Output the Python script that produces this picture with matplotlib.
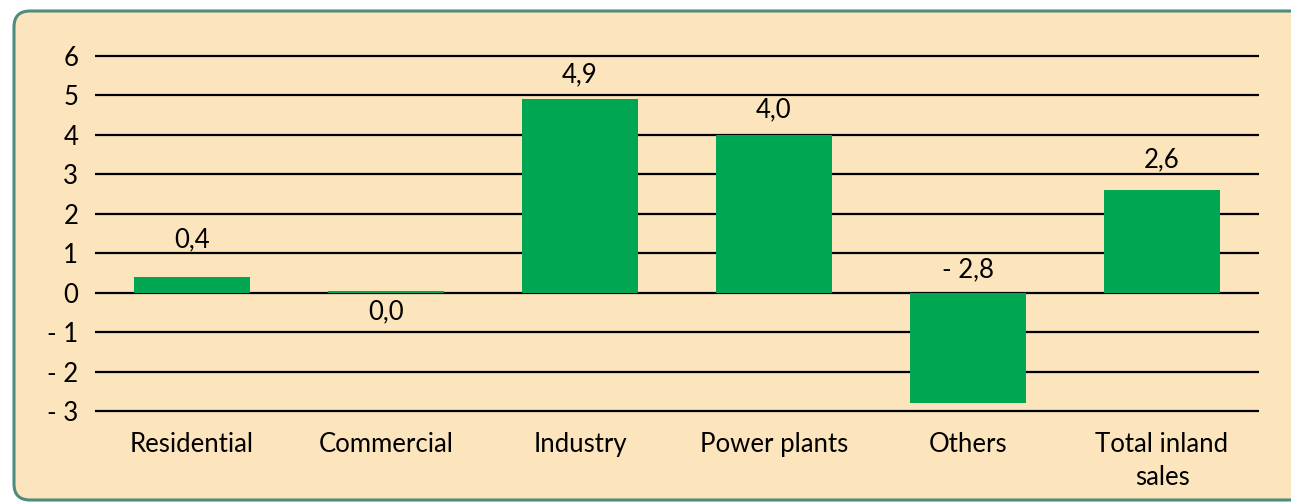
import matplotlib
matplotlib.use("Agg")
import matplotlib.pyplot as plt
from matplotlib.patches import FancyBboxPatch

categories = ["Residential", "Commercial", "Industry", "Power plants", "Others", "Total inland\nsales"]
values = [0.4, 0.04, 4.9, 4.0, -2.8, 2.6]
yticks = [-3, -2, -1, 0, 1, 2, 3, 4, 5, 6]
ytick_labels = ["- 3", "- 2", "- 1", "0", "1", "2", "3", "4", "5", "6"]
value_labels = ["0,4", "0,0", "4,9", "4,0", "- 2,8", "2,6"]

BG = "#FCE4BC"
GREEN = "#00A651"
BORDER = "#4E8C80"
FONT = ["Lato", "DejaVu Sans"]
FS = 18.5

fig = plt.figure(figsize=(12.91, 5.04), dpi=100)
fig.patch.set_facecolor("white")

frame = FancyBboxPatch((14, 4), 1330, 489, boxstyle="round,pad=0,rounding_size=16",
                       transform=None, facecolor=BG, edgecolor=BORDER, linewidth=2.2, zorder=-10)
fig.patches.append(frame)

ax = fig.add_axes([95/1291, 1-413/504, (1259-95)/1291, (413-54)/504])
ax.set_zorder(5)
ax.set_facecolor("none")
ax.set_xlim(-0.5, len(categories)-0.5)
ax.set_ylim(-3.05, 6.05)

for y in yticks:
    ax.axhline(y, color="black", linewidth=1.6, zorder=1)

x = list(range(len(categories)))
ax.bar(x, values, width=0.6, color=GREEN, zorder=2)

for i, (v, lab) in enumerate(zip(values, value_labels)):
    if v >= 0.1:
        off = 18 if v > 3 else (22 if v > 1 else 27)
        ax.annotate(lab, (i, v), xytext=(0, off), textcoords="offset points",
                    ha="center", va="center", fontsize=FS, family=FONT)
    elif v >= 0:
        ax.annotate(lab, (i, 0), xytext=(0, -14), textcoords="offset points",
                    ha="center", va="center", fontsize=FS, family=FONT)
    else:
        ax.annotate(lab, (i, 0), xytext=(0, 16.5), textcoords="offset points",
                    ha="center", va="center", fontsize=FS, family=FONT)

ax.set_yticks(yticks)
ax.set_yticklabels(ytick_labels, family=FONT, fontsize=FS)
ax.set_xticks(x)
ax.set_xticklabels(categories, family=FONT, fontsize=FS, linespacing=1.4)
ax.tick_params(axis="both", length=0)
ax.tick_params(axis="y", pad=12)
ax.tick_params(axis="x", pad=14)
for s in ax.spines.values():
    s.set_visible(False)

fig.savefig("out.png", dpi=100, facecolor="white")
